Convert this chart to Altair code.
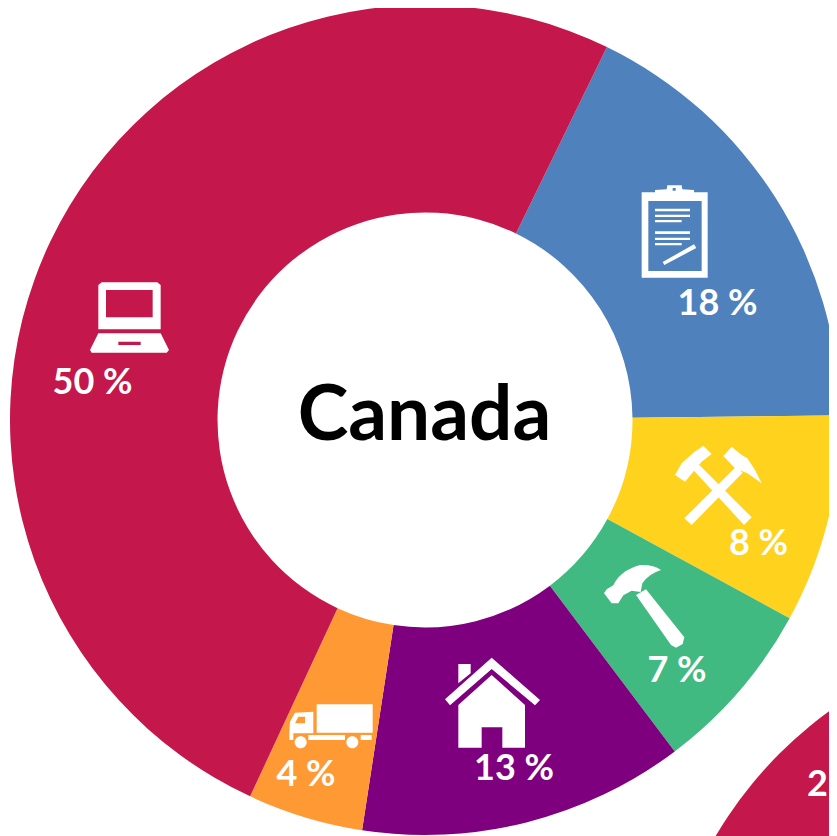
import altair as alt
import pandas as pd
import math

# --- data -------------------------------------------------------------
categories = ["Services", "Professional", "Mining", "Construction", "Housing", "Transport"]
slice_shares = [17.6, 8.1, 6.8, 12.7, 4.5, 50.3]
slice_keys = ["blue", "yellow", "green", "purple", "orange", "crimson"]
slice_colors = ["#4F81BD", "#FFD21E", "#41BA82", "#7F007F", "#FF9933", "#C4174B"]
percent_labels = ["18 %", "8 %", "7 %", "13 %", "4 %", "50 %"]
title_text = "Canada"
partial_label = "2"

# --- layout (page pixels) --------------------------------------------
PAGE = 8
CX, CY, R_OUT, R_IN = 425, 420, 415, 207.5
START = math.radians(26)
FONT = "Lato"
label_pos = [(717.5, 315), (758.5, 555), (677, 682), (514, 780), (306, 786), (92.5, 394)]


def rect(x0, y0, x1, y1):
    return f"M{x0} {y0}L{x1} {y0}L{x1} {y1}L{x0} {y1}Z"


def hole(x0, y0, x1, y1):
    return f"M{x0} {y0}L{x0} {y1}L{x1} {y1}L{x1} {y0}Z"


def poly(*pts):
    return "M" + "L".join(f"{x} {y}" for x, y in pts) + "Z"


def circle(cx, cy, r):
    k = 0.5523 * r
    return (f"M{cx} {cy-r}C{cx+k} {cy-r} {cx+r} {cy-k} {cx+r} {cy}"
            f"C{cx+r} {cy+k} {cx+k} {cy+r} {cx} {cy+r}"
            f"C{cx-k} {cy+r} {cx-r} {cy+k} {cx-r} {cy}"
            f"C{cx-r} {cy-k} {cx-k} {cy-r} {cx} {cy-r}Z")


# icon outlines, in units of 1/3 px relative to the icon's origin
clipboard = (
    poly((65, 67), (105, 67), (105, 60), (140, 58), (142, 46), (185, 46), (187, 58),
         (222, 60), (222, 67), (263, 67), (263, 323), (65, 323))
    + poly((85, 93), (85, 303), (245, 303), (245, 93))
    + hole(158, 54, 167, 62)
    + rect(105, 116, 210, 124) + rect(105, 134, 210, 141) + rect(105, 150, 185, 157)
    + rect(105, 184, 210, 192) + rect(105, 203, 210, 210) + rect(105, 219, 185, 226)
    + poly((128, 276), (222, 223), (229, 234), (133, 285))
)
mining = (
    poly((100, 120), (118, 105), (275, 262), (252, 285))
    + poly((228, 110), (248, 128), (95, 285), (73, 265))
    + poly((45, 135), (65, 100), (100, 68), (130, 47), (155, 72), (125, 95), (75, 155))
    + poly((190, 78), (215, 50), (245, 75), (262, 85), (285, 120), (305, 160), (262, 130), (225, 115))
)
hammer = (
    "M42 130L50 118L70 106Q90 62 150 45Q190 43 213 60Q175 72 157 100L152 126L125 122"
    "L100 136L85 160L65 160Z"
    + poly((138, 135), (168, 118), (283, 262), (278, 282), (258, 293), (243, 285))
)
house = (
    poly((85, 42), (122, 42), (122, 70), (85, 100))
    + poly((185, 23), (330, 150), (315, 166), (185, 57), (60, 166), (45, 148))
    + poly((85, 165), (185, 75), (285, 165), (285, 293), (217, 293), (217, 232),
           (155, 232), (155, 293), (85, 293))
)
truck = (
    rect(140, 43, 308, 128)
    + poly((58, 130), (60, 95), (75, 68), (130, 65), (130, 130))
    + poly((75, 100), (105, 100), (105, 80), (85, 80))
    + rect(115, 135, 225, 150) + rect(272, 135, 305, 150) + rect(58, 130, 70, 150)
    + circle(92, 157, 18) + circle(247, 157, 18)
)
laptop = (
    poly((85, 60), (95, 52), (262, 52), (272, 60), (272, 193), (85, 193))
    + hole(108, 75, 248, 157)
    + poly((85, 205), (272, 205), (297, 255), (290, 263), (65, 263), (60, 255))
    + hole(145, 230, 212, 240)
)
icons = [
    (clipboard, 620, 170), (mining, 660, 430), (hammer, 590, 550),
    (house, 430, 650), (truck, 270, 690), (laptop, 70, 265),
]

# --- chart ------------------------------------------------------------
one = pd.DataFrame({"v": [1]})

ring = pd.DataFrame({
    "key": slice_keys,
    "category": categories,
    "share": slice_shares,
    "order": list(range(len(slice_keys))),
})

layers = []

# neighbouring donut, cropped by the window
layers.append(
    alt.Chart(one).mark_arc(theta=0, theta2=2 * math.pi, outerRadius=R_OUT, color="#C4174B")
    .encode(x=alt.value(1073 - PAGE), y=alt.value(1047 - PAGE))
)

layers.append(
    alt.Chart(ring).mark_arc(innerRadius=R_IN, outerRadius=R_OUT)
    .encode(
        theta=alt.Theta("share:Q", stack=True,
                        scale=alt.Scale(domain=[0, sum(slice_shares)],
                                        range=[START, START + 2 * math.pi])),
        color=alt.Color("key:N", legend=None,
                        scale=alt.Scale(domain=slice_keys, range=slice_colors)),
        order=alt.Order("order:Q"),
        x=alt.value(CX - PAGE),
        y=alt.value(CY - PAGE),
    )
)

for path, ox, oy in icons:
    layers.append(
        alt.Chart(one).mark_point(shape=path, size=4 / 9, filled=True, opacity=1,
                                  color="white", strokeWidth=0)
        .encode(x=alt.value(ox - PAGE), y=alt.value(oy - PAGE))
    )

for text, (px, py) in zip(percent_labels, label_pos):
    layers.append(
        alt.Chart(pd.DataFrame({"t": [text]}))
        .mark_text(font=FONT, fontWeight="bold", fontSize=36, color="white",
                   align="center", baseline="alphabetic")
        .encode(text="t:N", x=alt.value(px - PAGE), y=alt.value(py - PAGE))
    )

layers.append(
    alt.Chart(pd.DataFrame({"t": [partial_label]}))
    .mark_text(font=FONT, fontWeight="bold", fontSize=36, color="white",
               align="right", baseline="alphabetic")
    .encode(text="t:N", x=alt.value(828 - PAGE), y=alt.value(796 - PAGE))
)

layers.append(
    alt.Chart(pd.DataFrame({"t": [title_text]}))
    .mark_text(font=FONT, fontWeight="bold", fontSize=76.5, color="black",
               align="center", baseline="alphabetic")
    .encode(text="t:N", x=alt.value(424.5 - PAGE), y=alt.value(440 - PAGE))
)

chart = (
    alt.layer(*layers)
    .properties(width=821, height=828, padding=0,
                autosize=alt.AutoSizeParams(type="none"))
    .configure_view(stroke=None)
)

chart.save("out.html", embed_options={"renderer": "svg", "actions": False})
